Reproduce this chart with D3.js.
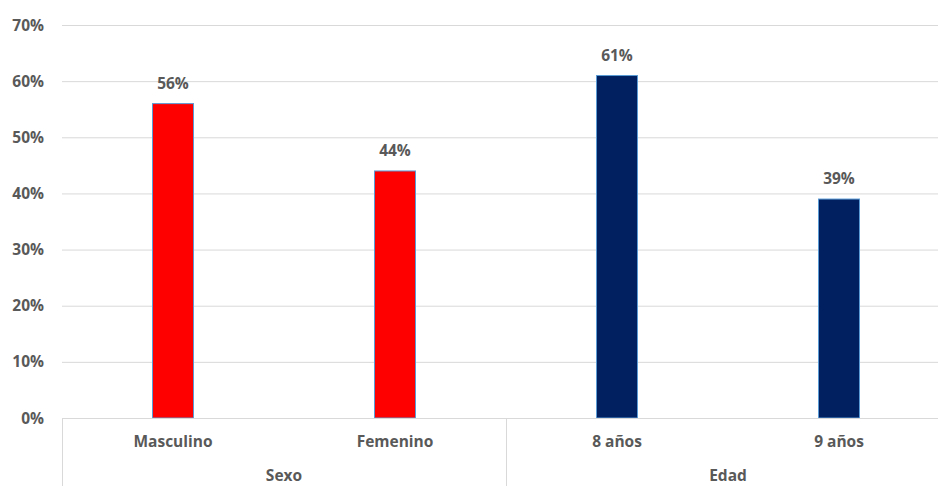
<!DOCTYPE html>
<html>
<head>
<meta charset="utf-8">
<script src="https://cdn.jsdelivr.net/npm/d3@7"></script>
<style>
  body { margin: 0; background: #fff; }
  text { font-family: "Open Sans", "Liberation Sans", sans-serif; font-weight: 700; fill: #595959; }
</style>
</head>
<body>
<script>
const categories = ['Masculino', 'Femenino', '8 años', '9 años']
const groups = ['Sexo', 'Sexo', 'Edad', 'Edad']
const groupNames = ['Sexo', 'Edad']
const values = [56, 44, 61, 39]
const yTicks = [0, 10, 20, 30, 40, 50, 60, 70]

const WIDTH = 938, HEIGHT = 486
const COLORS = { Sexo: '#ff0000', Edad: '#002060' }
const FS = 15.5

const svg = d3.select('body').append('svg')
  .attr('width', WIDTH).attr('height', HEIGHT)

const x = d3.scaleBand().domain(categories).range([62, 950])
const y = d3.scaleLinear().domain([0, 70]).range([418, 25])
const barW = 41

// gridlines
svg.append('g').selectAll('line').data(yTicks).join('line')
  .attr('x1', 62).attr('x2', WIDTH)
  .attr('y1', d => y(d) + 0.5).attr('y2', d => y(d) + 0.5)
  .attr('stroke', '#d9d9d9').attr('stroke-width', 1)

// y labels
svg.append('g').selectAll('text').data(yTicks).join('text')
  .attr('x', 44).attr('y', d => y(d) + 5.5)
  .attr('text-anchor', 'end').attr('font-size', FS)
  .text(d => d + '%')

// bars
svg.append('g').selectAll('rect').data(values).join('rect')
  .attr('x', (d, i) => x(categories[i]) + x.bandwidth() / 2 - barW / 2)
  .attr('y', d => y(d))
  .attr('width', barW)
  .attr('height', d => y(0) - y(d))
  .attr('fill', (d, i) => COLORS[groups[i]])
  .attr('stroke', '#5b9bd5').attr('stroke-width', 1)

// value labels
svg.append('g').selectAll('text').data(values).join('text')
  .attr('x', (d, i) => x(categories[i]) + x.bandwidth() / 2)
  .attr('y', d => y(d) - 15)
  .attr('text-anchor', 'middle').attr('font-size', FS)
  .text(d => d + '%')

// category axis
svg.append('line').attr('x1', 62).attr('x2', WIDTH)
  .attr('y1', y(0) + 0.5).attr('y2', y(0) + 0.5)
  .attr('stroke', '#d9d9d9')

const sepX = [x(categories[0]), x(categories[2])]
svg.append('g').selectAll('line').data(sepX).join('line')
  .attr('x1', d => d + 0.5).attr('x2', d => d + 0.5)
  .attr('y1', y(0)).attr('y2', HEIGHT)
  .attr('stroke', '#d9d9d9')

svg.append('g').selectAll('text').data(categories).join('text')
  .attr('x', d => x(d) + x.bandwidth() / 2)
  .attr('y', 447)
  .attr('text-anchor', 'middle').attr('font-size', FS)
  .text(d => d)

svg.append('g').selectAll('text').data(groupNames).join('text')
  .attr('x', (d, i) => x(categories[i * 2]) + x.bandwidth())
  .attr('y', 481)
  .attr('text-anchor', 'middle').attr('font-size', FS)
  .text(d => d)
</script>
</body>
</html>
